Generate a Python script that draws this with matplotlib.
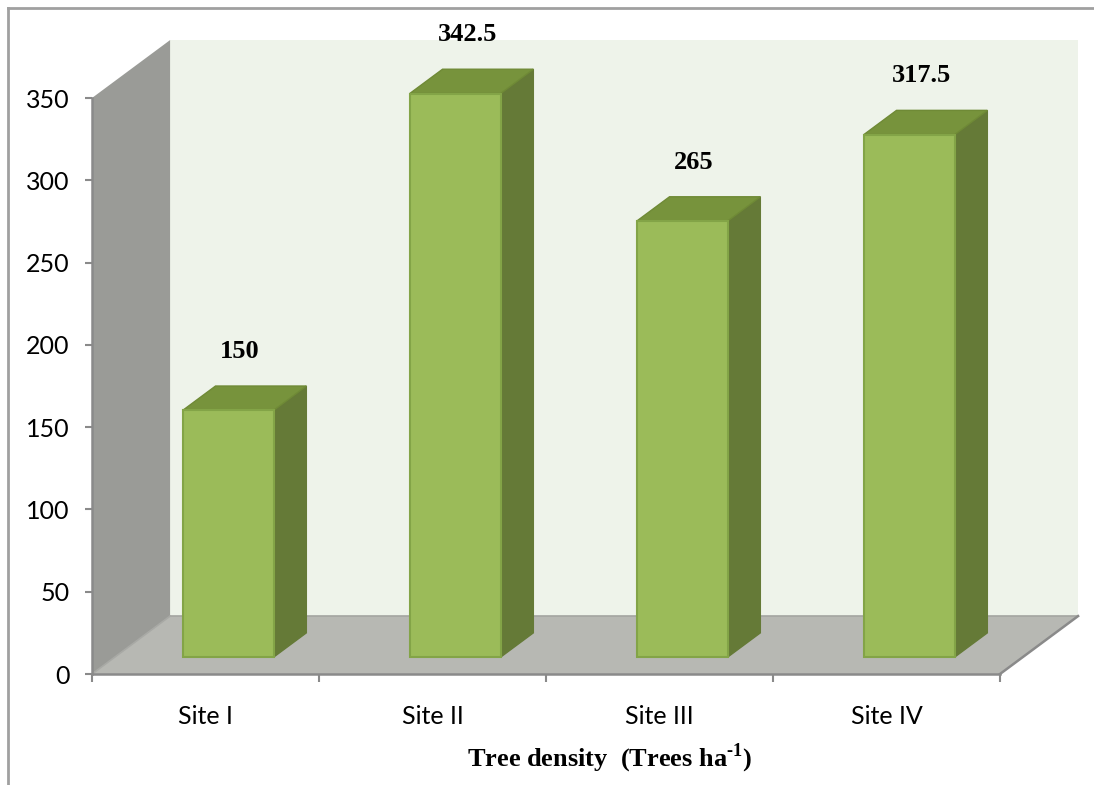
import numpy as np
import matplotlib.pyplot as plt
from matplotlib.patches import Polygon, Rectangle

# data
sites = ['Site I', 'Site II', 'Site III', 'Site IV']
density = [150, 342.5, 265, 317.5]
y_ticks = [0, 50, 100, 150, 200, 250, 300, 350]
x_label = 'Tree density  (Trees ha$^{\\mathbf{\u2010 1}}$)'.replace('\u2010 ', '\u2010')

# 3D look
depth_dx = 0.344      # wall depth along x (category units)
depth_dy = 35.2       # wall depth along y (value units)
bar_front = 0.29      # bar front/back position in wall depth
bar_back = 0.71
bar_w = 0.40

c_front = '#9bbb59'
c_top = '#77933c'
c_side = '#657a37'
c_edge = '#83a447'
c_back = '#eef3ea'
c_left = '#9a9b97'
c_floor = '#b7b8b3'
c_axis = '#8a8a8a'

plt.rcParams['font.family'] = ['Lato', 'DejaVu Sans']
plt.rcParams['mathtext.fontset'] = 'custom'
plt.rcParams['mathtext.rm'] = 'Liberation Serif'
plt.rcParams['mathtext.bf'] = 'Liberation Serif:bold'

fig = plt.figure(figsize=(10.94, 7.85), dpi=100)
ax = fig.add_axes([92 / 1094, 111 / 785, 908 / 1094, 576 / 785])
ax.set_xlim(0, 4)
ax.set_ylim(0, 350)
ax.patch.set_alpha(0)

n = len(sites)
top = y_ticks[-1]

# back wall, left wall and floor
ax.add_patch(Polygon([(depth_dx, depth_dy), (n + depth_dx, depth_dy),
                      (n + depth_dx, top + depth_dy), (depth_dx, top + depth_dy)],
                     closed=True, fc=c_back, ec='none', clip_on=False, zorder=0))
ax.add_patch(Polygon([(0, 0), (0, top), (depth_dx, top + depth_dy), (depth_dx, depth_dy)],
                     closed=True, fc=c_left, ec='none', clip_on=False, zorder=1))
ax.add_patch(Polygon([(0, 0), (n, 0), (n + depth_dx, depth_dy), (depth_dx, depth_dy)],
                     closed=True, fc=c_floor, ec='none', clip_on=False, zorder=1))
ax.plot([depth_dx, n + depth_dx], [depth_dy, depth_dy], color='#a3a4a0', lw=1.2,
        clip_on=False, zorder=1.5)
ax.plot([0, depth_dx], [0, depth_dy], color='#a8a9a5', lw=1.2, clip_on=False, zorder=1.5)
ax.plot([n, n + depth_dx], [0, depth_dy], color=c_axis, lw=1.8, clip_on=False, zorder=1.5)

# bars
for i, v in enumerate(density):
    x0 = i + 0.5 - bar_w / 2 + bar_front * depth_dx
    x1 = x0 + bar_w
    y0 = bar_front * depth_dy
    ddx = (bar_back - bar_front) * depth_dx
    ddy = (bar_back - bar_front) * depth_dy
    # right side
    ax.add_patch(Polygon([(x1, y0), (x1 + ddx, y0 + ddy), (x1 + ddx, y0 + ddy + v), (x1, y0 + v)],
                         closed=True, fc=c_side, ec=c_side, lw=1, clip_on=False, zorder=3))
    # top
    ax.add_patch(Polygon([(x0, y0 + v), (x1, y0 + v), (x1 + ddx, y0 + ddy + v), (x0 + ddx, y0 + ddy + v)],
                         closed=True, fc=c_top, ec='#6f8a36', lw=1, clip_on=False, zorder=3))
    # front
    ax.add_patch(Rectangle((x0, y0), bar_w, v, fc=c_front, ec=c_edge, lw=1.5,
                           clip_on=False, zorder=4))
    ax.text((x0 + x1) / 2 + 0.053, y0 + ddy + v + 21, f'{v:g}', ha='center', va='center',
            fontsize=19, fontweight='bold', family='Liberation Serif', zorder=5)

# axes
for s in ['top', 'right']:
    ax.spines[s].set_visible(False)
for s in ['left', 'bottom']:
    ax.spines[s].set_color(c_axis)
    ax.spines[s].set_linewidth(1.8)
    ax.spines[s].set_zorder(2)
ax.set_yticks(y_ticks)
ax.tick_params(axis='y', length=5, width=1.5, color=c_axis, pad=11, labelsize=18)
ax.set_xticks(range(n + 1))
ax.set_xticklabels([])
ax.set_xticks(np.arange(n) + 0.5, minor=True)
ax.set_xticklabels(sites, minor=True)
ax.tick_params(axis='x', which='major', length=6, width=1.5, color=c_axis)
ax.tick_params(axis='x', which='minor', length=0, pad=22, labelsize=18)
ax.set_xlabel(x_label, fontsize=19, fontweight='bold', family='Liberation Serif', labelpad=10)
ax.xaxis.label.set_x(0.57)

# chart frame
fig.add_artist(plt.Line2D([8 / 1094, 8 / 1094], [0, 1 - 8 / 785], color='#a0a0a0', lw=2,
                          transform=fig.transFigure))
fig.add_artist(plt.Line2D([8 / 1094, 1], [1 - 8 / 785, 1 - 8 / 785], color='#a0a0a0', lw=2,
                          transform=fig.transFigure))

fig.savefig('out.png', dpi=100)
